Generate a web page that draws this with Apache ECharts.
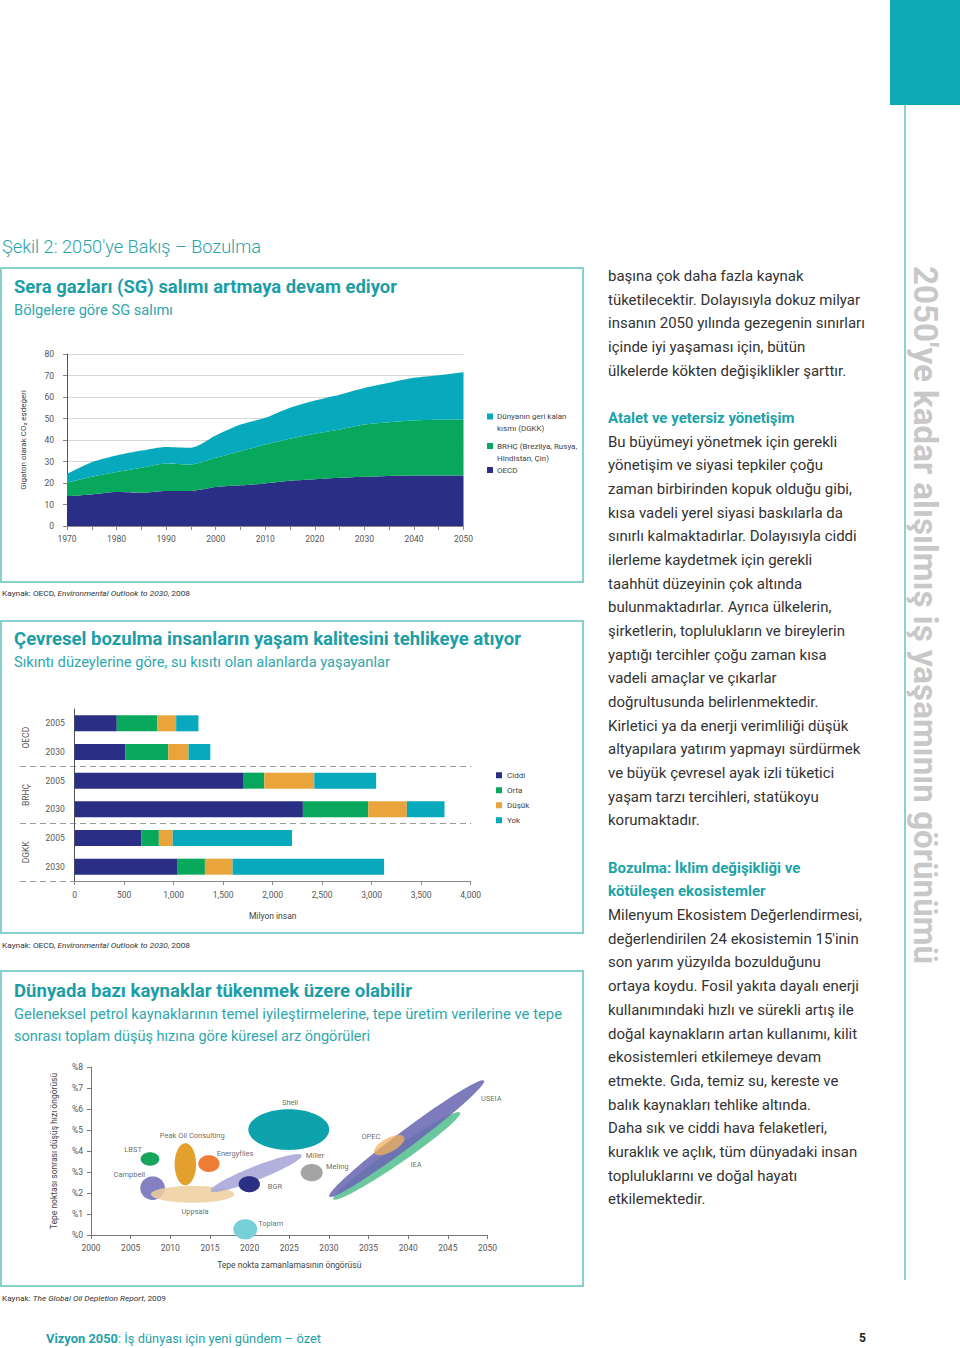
<!DOCTYPE html>
<html lang="tr">
<head>
<meta charset="utf-8">
<script src="https://cdn.jsdelivr.net/npm/echarts@6/dist/echarts.min.js"></script>
<style>
html,body{margin:0;padding:0;background:#fff;}
body{width:960px;height:1348px;position:relative;overflow:hidden;font-family:Roboto,"Noto Sans",sans-serif;color:#333;}
.abs{position:absolute;white-space:nowrap;line-height:20px;}
.fit{display:inline-block;transform-origin:0 50%;}
.panel{position:absolute;left:0;width:584px;border:2px solid #86d0cd;box-sizing:border-box;}
.ttl{font-size:18px;font-weight:700;color:#1b9ea7;}
.sub{font-size:14px;color:#2ea7ad;}
.src{font-size:8px;color:#333;}
#body{position:absolute;left:608px;top:265px;font-size:15px;line-height:23.67px;color:#333;transform-origin:0 0;white-space:nowrap;}
#body .h{color:#1ba3a7;font-weight:700;}
#chart{position:absolute;left:0;top:0;width:960px;height:1348px;}
</style>
</head>
<body>
<div style="position:absolute;left:890px;top:0;width:70px;height:105px;background:#0fa8b5;"></div>
<div style="position:absolute;left:904px;top:105px;width:2px;height:1175px;background:#8fd1cb;"></div>
<div id="vt" style="position:absolute;left:0;top:0;white-space:nowrap;font-size:34px;line-height:30px;font-weight:700;color:#c8c8c8;transform-origin:0 0;">2050'ye kadar alışılmış iş yaşamının görünümü</div>

<div class="abs" style="left:2px;top:237px;"><span class="fit" data-w="259" style="font-size:18px;color:#27a3a9;font-weight:300;">Şekil 2: 2050'ye Bakış – Bozulma</span></div>

<div class="panel" style="top:267px;height:316px;"></div>
<div class="abs" style="left:14px;top:277px;"><span class="fit ttl" data-w="383">Sera gazları (SG) salımı artmaya devam ediyor</span></div>
<div class="abs" style="left:14px;top:300px;"><span class="fit sub" data-w="159">Bölgelere göre SG salımı</span></div>
<div class="abs" style="left:2px;top:581px;"><span class="fit src" data-w="188">Kaynak: OECD, <i>Environmental Outlook to 2030</i>, 2008</span></div>

<div class="panel" style="top:620px;height:314px;"></div>
<div class="abs" style="left:14px;top:629px;"><span class="fit ttl" data-w="507">Çevresel bozulma insanların yaşam kalitesini tehlikeye atıyor</span></div>
<div class="abs" style="left:14px;top:652px;"><span class="fit sub" data-w="376">Sıkıntı düzeylerine göre, su kısıtı olan alanlarda yaşayanlar</span></div>
<div class="abs" style="left:2px;top:933px;"><span class="fit src" data-w="188">Kaynak: OECD, <i>Environmental Outlook to 2030</i>, 2008</span></div>

<div class="panel" style="top:970px;height:317px;"></div>
<div class="abs" style="left:14px;top:981px;"><span class="fit ttl" data-w="398">Dünyada bazı kaynaklar tükenmek üzere olabilir</span></div>
<div class="abs" style="left:14px;top:1004px;"><span class="fit sub" data-w="548">Geleneksel petrol kaynaklarının temel iyileştirmelerine, tepe üretim verilerine ve tepe</span></div>
<div class="abs" style="left:14px;top:1026px;"><span class="fit sub" data-w="356">sonrası toplam düşüş hızına göre küresel arz öngörüleri</span></div>
<div class="abs" style="left:2px;top:1286px;"><span class="fit src" data-w="164">Kaynak: <i>The Global Oil Depletion Report</i>, 2009</span></div>

<div class="abs" style="left:46px;top:1328px;"><span class="fit" data-w="275" style="font-size:13px;color:#1fa1a9;"><b>Vizyon 2050</b>: İş dünyası için yeni gündem – özet</span></div>
<div class="abs" style="left:859px;top:1328px;font-size:12px;font-weight:700;color:#222;">5</div>

<div id="body">
<div>başına çok daha fazla kaynak</div>
<div id="ref" style="display:inline-block;">tüketilecektir. Dolayısıyla dokuz milyar</div>
<div>insanın 2050 yılında gezegenin sınırları</div>
<div>içinde iyi yaşaması için, bütün</div>
<div>ülkelerde kökten değişiklikler şarttır.</div>
<div>&nbsp;</div>
<div class="h">Atalet ve yetersiz yönetişim</div>
<div>Bu büyümeyi yönetmek için gerekli</div>
<div>yönetişim ve siyasi tepkiler çoğu</div>
<div>zaman birbirinden kopuk olduğu gibi,</div>
<div>kısa vadeli yerel siyasi baskılarla da</div>
<div>sınırlı kalmaktadırlar. Dolayısıyla ciddi</div>
<div>ilerleme kaydetmek için gerekli</div>
<div>taahhüt düzeyinin çok altında</div>
<div>bulunmaktadırlar. Ayrıca ülkelerin,</div>
<div>şirketlerin, toplulukların ve bireylerin</div>
<div>yaptığı tercihler çoğu zaman kısa</div>
<div>vadeli amaçlar ve çıkarlar</div>
<div>doğrultusunda belirlenmektedir.</div>
<div>Kirletici ya da enerji verimliliği düşük</div>
<div>altyapılara yatırım yapmayı sürdürmek</div>
<div>ve büyük çevresel ayak izli tüketici</div>
<div>yaşam tarzı tercihleri, statükoyu</div>
<div>korumaktadır.</div>
<div>&nbsp;</div>
<div class="h">Bozulma: İklim değişikliği ve</div>
<div class="h">kötüleşen ekosistemler</div>
<div>Milenyum Ekosistem Değerlendirmesi,</div>
<div>değerlendirilen 24 ekosistemin 15'inin</div>
<div>son yarım yüzyılda bozulduğunu</div>
<div>ortaya koydu. Fosil yakıta dayalı enerji</div>
<div>kullanımındaki hızlı ve sürekli artış ile</div>
<div>doğal kaynakların artan kullanımı, kilit</div>
<div>ekosistemleri etkilemeye devam</div>
<div>etmekte. Gıda, temiz su, kereste ve</div>
<div>balık kaynakları tehlike altında.</div>
<div>Daha sık ve ciddi hava felaketleri,</div>
<div>kuraklık ve açlık, tüm dünyadaki insan</div>
<div>topluluklarını ve doğal hayatı</div>
<div>etkilemektedir.</div>
</div>

<div id="chart"></div>

<script>
// ---------- Chart 1: GHG emissions by region (Gt CO2-eq) ----------
const ghgYears = ['1970','1975','1980','1985','1990','1995','2000','2005','2010','2015','2020','2025','2030','2035','2040','2045','2050'];
const ghgOECD  = [13.9,14.7,15.8,15.5,16.3,16.3,18.1,18.9,19.8,21.0,21.7,22.4,22.9,23.3,23.5,23.5,23.5];
const ghgBRHC  = [6.2,8.2,9.3,11.6,12.8,12.3,13.6,15.9,18.1,19.6,21.2,22.5,24.3,25.0,25.6,25.9,26.0];
const ghgDGKK  = [4.2,6.8,7.7,8.0,7.7,7.8,10.4,12.4,12.4,14.4,15.5,16.2,17.0,18.3,19.8,20.7,22.0];
const ghgNames = ['OECD','BRHÇ','DGKK'];
const ghgLegend = [['Dünyanın geri kalan','kısmı (DGKK)'],['BRHÇ (Brezilya, Rusya,','Hindistan, Çin)'],['OECD']];

// ---------- Chart 2: people in water-stressed areas (million) ----------
const waterRows = ['OECD 2005','OECD 2030','BRHÇ 2005','BRHÇ 2030','DGKK 2005','DGKK 2030'];
const waterRowLabels = ['2005','2030','2005','2030','2005','2030'];
const waterGroups = ['OECD','BRHÇ','DGKK'];
const waterLevels = ['Ciddi','Orta','Düşük','Yok'];
const waterCiddi = [425,510,1700,2305,675,1040];
const waterOrta  = [410,435,215,660,175,275];
const waterDusuk = [190,205,505,390,140,280];
const waterYok   = [225,220,625,380,1205,1530];

// ---------- Chart 3: oil peak forecasts (year, post-peak decline %) ----------
const oilSources = ['Campbell','Uppsala','LBST','Peak Oil Consulting','Energyfiles','Miller','Shell','BGR','Toplam','Meling','IEA','USEIA','OPEC'];
// major-axis end points [year1, rate1, year2, rate2] and minor semi-axis (in % units)
const oilEllipses = [
  [2006.22,2.23,2009.32,2.23,0.56],
  [2007.55,1.94,2018.05,1.94,0.40],
  [2006.26,3.62,2008.62,3.62,0.32],
  [2011.90,2.37,2011.90,4.37,0.51],
  [2013.53,3.40,2016.21,3.40,0.40],
  [2015.10,2.10,2026.57,3.80,0.33],
  [2019.84,5.02,2030.04,5.02,0.97],
  [2018.62,2.42,2021.30,2.42,0.38],
  [2017.94,0.27,2020.96,0.27,0.48],
  [2026.44,2.97,2029.22,2.97,0.41],
  [2030.56,1.70,2046.54,5.83,0.38],
  [2030.05,1.83,2049.56,7.35,0.41],
  [2035.73,3.90,2039.48,4.66,0.33]
];
const oilLabels = [
  [2004.83,2.90,'Campbell'],[2013.11,1.13,'Uppsala'],[2005.3,4.06,'LBST'],
  [2012.77,4.74,'Peak Oil Consulting'],[2018.16,3.90,'Energyfiles'],[2028.25,3.80,'Miller'],
  [2025.1,6.33,'Shell'],[2023.2,2.32,'BGR'],[2022.66,0.54,'Toplam'],[2031.06,3.28,'Meling'],
  [2040.98,3.35,'IEA'],[2050.48,6.50,'USEIA'],[2035.3,4.68,'OPEC']
];

// ---------- styles ----------
const C_NAVY='#2a2e85', C_GREEN='#07a85b', C_ORANGE='#e9a43b', C_TEAL='#07a9bd';
const ghgColors=[C_NAVY,C_GREEN,C_TEAL];
const oilStyle = {
  'Campbell':['#7d7abf',0.95],'Uppsala':['#f0cf9c',0.85],'LBST':['#17a55c',1],
  'Peak Oil Consulting':['#e3a02c',1],'Energyfiles':['#ee7c37',1],'Miller':['#aaa7d8',0.9],
  'Shell':['#0ea3ac',1],'BGR':['#2c2f86',1],'Toplam':['#77cfd8',1],'Meling':['#a4a4a4',1],
  'IEA':['#63c499',0.95],'USEIA':['#6b69b3',0.88],'OPEC':['#f0b25a',0.75]
};
const FONT='Roboto, "Noto Sans", sans-serif';
const axisTxt={fontSize:8.5,color:'#555',fontFamily:FONT};

const chart = echarts.init(document.getElementById('chart'), null, {renderer:'svg'});

const ghgSeries = [ghgOECD, ghgBRHC, ghgDGKK].map((d,i)=>({
  type:'line', name:ghgNames[i], xAxisIndex:0, yAxisIndex:0, stack:'ghg',
  data:d, smooth:0.25, showSymbol:false, symbol:'none',
  lineStyle:{width:0}, areaStyle:{color:ghgColors[i], opacity:1}, itemStyle:{color:ghgColors[i]},
  z:2
}));

const waterSeries = [waterCiddi, waterOrta, waterDusuk, waterYok].map((d,i)=>({
  type:'bar', name:waterLevels[i], xAxisIndex:1, yAxisIndex:1, stack:'w',
  data:d, barWidth:16, itemStyle:{color:[C_NAVY,C_GREEN,C_ORANGE,C_TEAL][i]}
}));

// legend for chart 1 (multi-line labels)
const ghgLegendGraphics = [];
const legTops=[416.5,446,470];
ghgLegend.forEach((lines,i)=>{
  ghgLegendGraphics.push({type:'rect', left:487, top:legTops[i]-3, shape:{width:6,height:6}, style:{fill:[C_TEAL,C_GREEN,C_NAVY][i]}});
  ghgLegendGraphics.push({type:'text', left:497, top:legTops[i]-6, style:{text:lines.join('\n'), fontSize:8, lineHeight:12, fill:'#444', fontFamily:FONT}});
});

const option = {
  animation:false,
  textStyle:{fontFamily:FONT},
  grid:[
    {left:67, top:354, width:396.5, height:172},
    {left:74.7, top:709, width:396, height:172},
    {left:20, top:709, width:451, height:172},
    {left:91, top:1067, width:396.5, height:168}
  ],
  legend:{
    data:waterLevels, orient:'vertical', left:491, top:765, icon:'rect',
    itemWidth:6, itemHeight:6, itemGap:4.5, selectedMode:false,
    textStyle:{fontSize:8, color:'#444', fontFamily:FONT, lineHeight:10.5}
  },
  xAxis:[
    {gridIndex:0, type:'category', data:ghgYears, boundaryGap:false,
     axisLine:{lineStyle:{color:'#888'}}, axisTick:{show:true, interval:0, length:4, lineStyle:{color:'#888'}},
     axisLabel:Object.assign({interval:1, margin:8}, axisTxt), splitLine:{show:false}},
    {gridIndex:1, type:'value', min:0, max:4000, interval:500,
     axisLine:{show:true, lineStyle:{color:'#888'}}, axisTick:{show:true, length:4, lineStyle:{color:'#888'}},
     axisLabel:Object.assign({margin:9, formatter:v=>v.toLocaleString('en-US')}, axisTxt),
     splitLine:{show:false},
     name:'Milyon insan', nameLocation:'middle', nameGap:30, nameTextStyle:{fontSize:8.5,color:'#444',fontFamily:FONT}},
    {gridIndex:2, type:'value', show:false, min:0, max:1},
    {gridIndex:3, type:'value', min:2000, max:2050, interval:5,
     axisLine:{show:true, lineStyle:{color:'#777'}}, axisTick:{show:true, length:4, lineStyle:{color:'#777'}},
     axisLabel:Object.assign({margin:8, formatter:v=>String(v)}, axisTxt), splitLine:{show:false},
     name:'Tepe nokta zamanlamasının öngörüsü', nameLocation:'middle', nameGap:25, nameTextStyle:{fontSize:8.5,color:'#444',fontFamily:FONT}}
  ],
  yAxis:[
    {gridIndex:0, type:'value', min:0, max:80, interval:10,
     axisLine:{show:true, lineStyle:{color:'#555'}}, axisTick:{show:true, length:4, lineStyle:{color:'#888'}},
     axisLabel:Object.assign({margin:13}, axisTxt),
     splitLine:{show:true, lineStyle:{color:'#d8d8d8', width:1}},
     name:'Gigaton olarak CO₂ eşdeğeri', nameLocation:'middle', nameGap:40, nameRotate:90,
     nameTextStyle:{fontSize:8,color:'#444',fontFamily:FONT}},
    {gridIndex:1, type:'category', data:waterRows, inverse:true,
     axisLine:{show:true, lineStyle:{color:'#555'}}, axisTick:{show:false},
     axisLabel:Object.assign({margin:10, formatter:(v,i)=>waterRowLabels[i]}, axisTxt)},
    {gridIndex:2, type:'category', data:waterGroups, inverse:true,
     axisLine:{show:false}, axisTick:{show:false},
     axisLabel:Object.assign({rotate:90, inside:true, margin:1}, axisTxt),
     splitLine:{show:true, interval:(i)=>i===1||i===2, lineStyle:{color:'#9a9a9a', type:[6,4], width:1}}},
    {gridIndex:3, type:'value', min:0, max:8, interval:1,
     axisLine:{show:true, lineStyle:{color:'#777'}}, axisTick:{show:true, length:4, lineStyle:{color:'#777'}},
     axisLabel:Object.assign({margin:8, formatter:v=>'%'+v}, axisTxt), splitLine:{show:false},
     name:'Tepe noktası sonrası düşüş hızı öngörüsü', nameLocation:'middle', nameGap:33, nameRotate:90,
     nameTextStyle:{fontSize:8.5,color:'#444',fontFamily:FONT}}
  ],
  graphic: ghgLegendGraphics,
  series:[
    ...ghgSeries,
    ...waterSeries,
    {
      type:'custom', name:'oil', xAxisIndex:3, yAxisIndex:3, clip:false,
      data:oilEllipses, encode:{x:[0,2], y:[1,3]},
      renderItem:(params, api)=>{
        const p1=api.coord([api.value(0),api.value(1)]);
        const p2=api.coord([api.value(2),api.value(3)]);
        const minor=Math.abs(api.size([0,api.value(4)])[1]);
        const cx=(p1[0]+p2[0])/2, cy=(p1[1]+p2[1])/2;
        const a=Math.hypot(p2[0]-p1[0],p2[1]-p1[1])/2;
        const ang=Math.atan2(p2[1]-p1[1],p2[0]-p1[0]);
        const pts=[];
        for(let k=0;k<72;k++){
          const t=k/72*2*Math.PI, ex=a*Math.cos(t), ey=minor*Math.sin(t);
          pts.push([cx+ex*Math.cos(ang)-ey*Math.sin(ang), cy+ex*Math.sin(ang)+ey*Math.cos(ang)]);
        }
        const st=oilStyle[oilSources[params.dataIndex]];
        return {type:'polygon', shape:{points:pts}, style:{fill:st[0], opacity:st[1]}};
      }
    },
    {
      type:'scatter', name:'oilLabels', xAxisIndex:3, yAxisIndex:3, data:oilLabels,
      symbolSize:1, itemStyle:{color:'rgba(0,0,0,0)'}, z:5, clip:false,
      label:{show:true, position:'inside', formatter:p=>p.data[2], fontSize:7.5, color:'#444', fontFamily:FONT}
    }
  ]
};
chart.setOption(option);

function layoutText(){
  document.querySelectorAll('[data-w]').forEach(el=>{
    el.style.transform='none';
    const w=el.getBoundingClientRect().width;
    if(w>0) el.style.transform='scaleX('+(+el.dataset.w/w)+')';
  });
  const body=document.getElementById('body');
  body.style.transform='none';
  const rw=document.getElementById('ref').getBoundingClientRect().width;
  body.style.transform='scaleX('+(252/rw)+')';
  const vt=document.getElementById('vt');
  vt.style.transform='none';
  const vw=vt.getBoundingClientRect().width;
  vt.style.transform='translate(941px,266px) rotate(90deg) scaleX('+(698/vw)+')';
}
layoutText();
if(document.fonts&&document.fonts.ready) document.fonts.ready.then(layoutText);
</script>
</body>
</html>
